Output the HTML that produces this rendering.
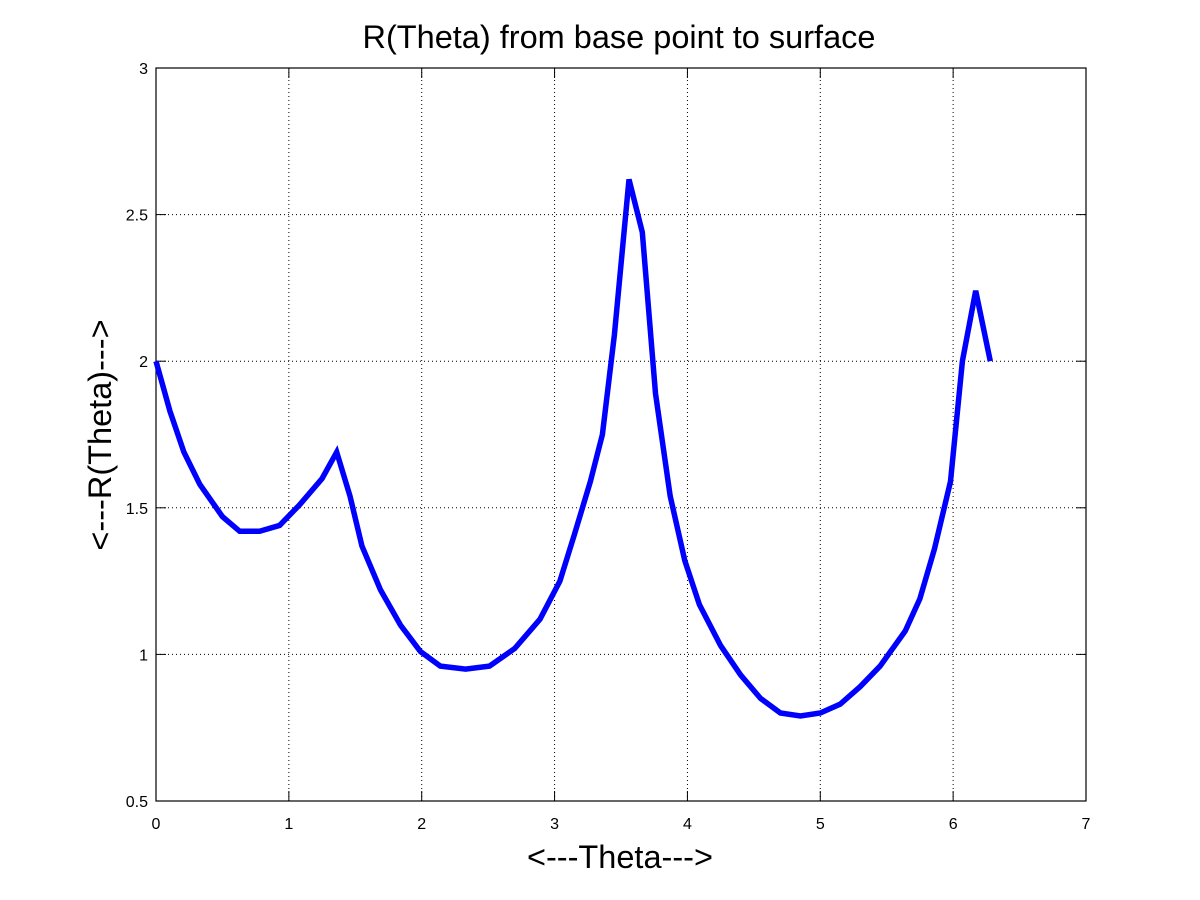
<!DOCTYPE html>
<html><head><meta charset="utf-8"><style>
body{margin:0;background:#fff;}
svg{display:block;font-family:"Liberation Sans",sans-serif;}
</style></head><body>
<svg id="chart" width="1200" height="900">
<rect width="1200" height="900" fill="#fff"/>
<g id="grid"></g>
<g id="axes"></g>
<g id="series"></g>
<text x="619" y="48" font-size="32.5" text-anchor="middle">R(Theta) from base point to surface</text>
<text x="620" y="868" font-size="32.5" text-anchor="middle">&lt;---Theta---&gt;</text>
<text x="0" y="0" font-size="32.5" text-anchor="middle" transform="translate(111,435) rotate(-90)">&lt;---R(Theta)---&gt;</text>
</svg>
<script>
const xTicks=[0,1,2,3,4,5,6,7];
const yTicks=[0.5,1,1.5,2,2.5,3];
const yTickLabels=["0.5","1","1.5","2","2.5","3"];
const theta=[0,0.105,0.21,0.33,0.5,0.63,0.78,0.93,1.08,1.25,1.36,1.46,1.55,1.69,1.84,1.99,2.14,2.33,2.51,2.70,2.89,3.04,3.15,3.27,3.36,3.45,3.56,3.66,3.76,3.87,3.98,4.09,4.25,4.40,4.55,4.70,4.85,5.00,5.15,5.30,5.45,5.64,5.75,5.86,5.98,6.07,6.17,6.28];
const rVals=[2.0,1.83,1.69,1.58,1.47,1.42,1.42,1.44,1.51,1.60,1.69,1.54,1.37,1.22,1.10,1.01,0.96,0.95,0.96,1.02,1.12,1.25,1.41,1.59,1.75,2.09,2.62,2.44,1.89,1.54,1.32,1.17,1.03,0.93,0.85,0.80,0.79,0.80,0.83,0.89,0.96,1.08,1.19,1.36,1.59,2.00,2.24,2.0];
const L=156,R=1086,T=68,B=801,xmin=0,xmax=7,ymin=0.5,ymax=3;
const sx=v=>L+(v-xmin)/(xmax-xmin)*(R-L);
const sy=v=>B-(v-ymin)/(ymax-ymin)*(B-T);
const NS="http://www.w3.org/2000/svg";
function mk(tag,attrs,parent){const e=document.createElementNS(NS,tag);for(const k in attrs)e.setAttribute(k,attrs[k]);parent.appendChild(e);return e;}
const grid=document.getElementById('grid'),axes=document.getElementById('axes'),series=document.getElementById('series');
xTicks.forEach((t,i)=>{const x=sx(t);
 if(i>0&&i<xTicks.length-1){const g=mk('line',{x1:x,x2:x,y1:T,y2:B,stroke:'#000','stroke-width':1,'stroke-dasharray':'1,3'},grid);
 
 }
 const a=mk('line',{x1:x,x2:x,y1:B,y2:B-10,stroke:'#000'},axes);
 
 
 const b=mk('line',{x1:x,x2:x,y1:T,y2:T+10,stroke:'#000'},axes);
 
 
 const tx=mk('text',{x:x,y:B+28,'font-size':16,'text-anchor':'middle'},axes);tx.textContent=String(t);
 
 
});
yTicks.forEach((t,i)=>{const y=sy(t);
 if(i>0&&i<yTicks.length-1){const g=mk('line',{x1:L,x2:R,y1:y,y2:y,stroke:'#000','stroke-width':1,'stroke-dasharray':'1,3'},grid);
 
 }
 const a=mk('line',{x1:L,x2:L+10,y1:y,y2:y,stroke:'#000'},axes);
 
 
 const b=mk('line',{x1:R,x2:R-10,y1:y,y2:y,stroke:'#000'},axes);
 
 
 const tx=mk('text',{x:L-8,y:y+6,'font-size':16,'text-anchor':'end'},axes);tx.textContent=yTickLabels[i];
 
 
});
const box=mk('rect',{x:L,y:T,width:R-L,height:B-T,fill:'none',stroke:'#000','stroke-width':1.2},axes);


const pts=theta.map((t,i)=>sx(t).toFixed(1)+','+sy(rVals[i]).toFixed(1)).join(' ');
const line=mk('polyline',{points:pts,fill:'none',stroke:'#0000ff','stroke-width':5.5,'stroke-linejoin':'miter'},series);


</script>
</body></html>
